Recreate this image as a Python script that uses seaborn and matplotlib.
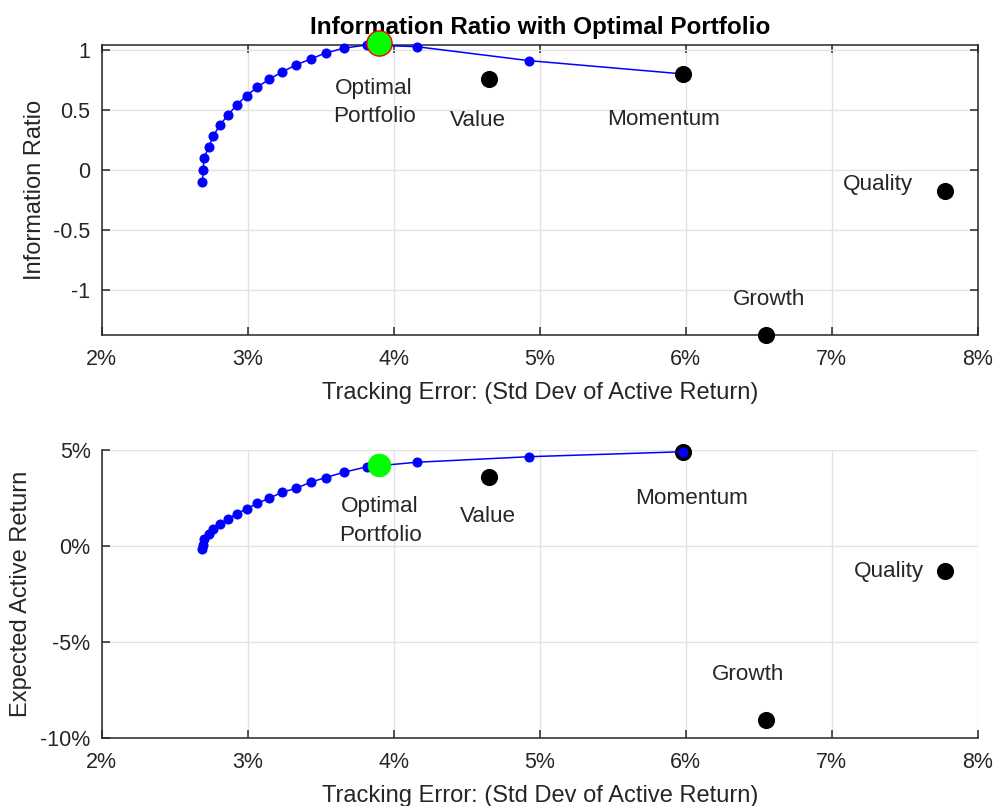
import numpy as np
import pandas as pd
import matplotlib
matplotlib.use('Agg')
import matplotlib.pyplot as plt
from matplotlib.ticker import PercentFormatter, FormatStrFormatter
import seaborn as sns

# Efficient frontier (in %)
frontier_te = [2.689, 2.695, 2.700, 2.734, 2.764, 2.810, 2.867, 2.924, 2.992, 3.065,
               3.147, 3.236, 3.330, 3.431, 3.533, 3.658, 3.814, 4.156, 4.927, 5.981]
frontier_ir = [-0.103, 0.000, 0.098, 0.195, 0.284, 0.376, 0.462, 0.543, 0.621, 0.691,
               0.758, 0.819, 0.877, 0.927, 0.977, 1.017, 1.044, 1.030, 0.913, 0.802]
frontier_ret = [-0.17, 0.07, 0.34, 0.60, 0.87, 1.14, 1.41, 1.67, 1.93, 2.22,
                2.48, 2.80, 3.00, 3.32, 3.56, 3.84, 4.12, 4.36, 4.65, 4.91]

# Factor portfolios
asset_names = ['Value', 'Momentum', 'Quality', 'Growth']
asset_te = [4.653, 5.981, 7.772, 6.552]
asset_ir = [0.76, 0.80, -0.175, -1.378]
asset_ret = [3.61, 4.91, -1.29, -9.10]

# Optimal portfolio
opt_te = 3.90
opt_ir = 1.058
opt_ret = 4.22

frontier = pd.DataFrame({'te': frontier_te, 'ir': frontier_ir, 'ret': frontier_ret})
assets = pd.DataFrame({'name': asset_names, 'te': asset_te, 'ir': asset_ir, 'ret': asset_ret})

sns.set_style('ticks')
plt.rcParams['font.family'] = ['Liberation Sans', 'DejaVu Sans']
plt.rcParams['axes.unicode_minus'] = False

text_col = '#262626'
grid_col = '#e2e2e2'
tick_size = 15.5
label_size = 17

# label offsets in pixels (dx, dy), alignment
top_labels = {'Optimal\nPortfolio': (-5, -59, 'center'), 'Value': (-11, -42, 'center'),
              'Momentum': (-19, -45, 'center'), 'Quality': (-32, 6, 'right'),
              'Growth': (3, 35, 'center')}
bot_labels = {'Optimal\nPortfolio': (1, -56, 'center'), 'Value': (-1, -40, 'center'),
              'Momentum': (9, -47, 'center'), 'Quality': (-21, -1, 'right'),
              'Growth': (-18, 46, 'center')}

fig = plt.figure(figsize=(9.95, 8.06), dpi=100)
ax1 = fig.add_axes([0.1022, 0.5844, 0.8806, 0.3598])
ax2 = fig.add_axes([0.1022, 0.0847, 0.8806, 0.3570])


def style_axes(ax, box):
    ax.grid(True, color=grid_col, lw=1.0)
    ax.set_axisbelow(True)
    for side in ['left', 'bottom', 'top', 'right']:
        ax.spines[side].set_color(text_col)
        ax.spines[side].set_linewidth(1.1)
    if not box:
        ax.spines['top'].set_visible(False)
        ax.spines['right'].set_visible(False)
    ax.tick_params(direction='in', length=6, width=1.1, color=text_col,
                   labelsize=tick_size, labelcolor=text_col,
                   top=box, right=box)
    ax.tick_params(axis='x', pad=10)
    ax.tick_params(axis='y', pad=8)
    ax.set_xlim(2, 8)
    ax.set_xticks([2, 3, 4, 5, 6, 7, 8])
    ax.xaxis.set_major_formatter(PercentFormatter(decimals=0))
    ax.set_xlabel('Tracking Error: (Std Dev of Active Return)', fontsize=label_size,
                  color=text_col, labelpad=9)


def add_labels(ax, ycol, opt_y, labels):
    pts = {'Optimal\nPortfolio': (opt_te, opt_y)}
    for _, r in assets.iterrows():
        pts[r['name']] = (r['te'], r[ycol])
    for name, (dx, dy, ha) in labels.items():
        ax.annotate(name, xy=pts[name], xytext=(dx, dy), textcoords='offset pixels',
                    ha=ha, va='center', fontsize=16.2, color=text_col, linespacing=1.45,
                    annotation_clip=False)


# Top: information ratio
style_axes(ax1, box=True)
sns.lineplot(data=frontier, x='te', y='ir', ax=ax1, color='blue', lw=1.1, marker='o',
             markersize=6.5, markeredgecolor='blue', sort=False, estimator=None, zorder=3,
             clip_on=False)
sns.scatterplot(data=assets, x='te', y='ir', ax=ax1, color='black', edgecolor='black',
                s=130, zorder=4, clip_on=False)
ax1.scatter([opt_te], [opt_ir], s=330, color='#00ff00', edgecolor='red', lw=1.0,
            zorder=5, clip_on=False)
ax1.set_ylim(min(asset_ir), max(frontier_ir))
ax1.set_yticks([-1, -0.5, 0, 0.5, 1])
ax1.yaxis.set_major_formatter(FormatStrFormatter('%g'))
ax1.set_ylabel('Information Ratio', fontsize=label_size, color=text_col, labelpad=5)
ax1.set_title('Information Ratio with Optimal Portfolio', fontsize=17.5, fontweight='bold',
              color='black', pad=8)
add_labels(ax1, 'ir', opt_ir, top_labels)

# Bottom: expected active return
style_axes(ax2, box=False)
sns.scatterplot(data=assets, x='te', y='ret', ax=ax2, color='black', edgecolor='black',
                s=130, zorder=3, clip_on=False)
sns.lineplot(data=frontier, x='te', y='ret', ax=ax2, color='blue', lw=1.1, marker='o',
             markersize=6.5, markeredgecolor='blue', sort=False, estimator=None, zorder=4,
             clip_on=False)
ax2.scatter([opt_te], [opt_ret], s=270, color='#00ff00', edgecolor='#00ff00', lw=0.5,
            zorder=5, clip_on=False)
ax2.set_ylim(-10, 5)
ax2.set_yticks([-10, -5, 0, 5])
ax2.yaxis.set_major_formatter(PercentFormatter(decimals=0))
ax2.set_ylabel('Expected Active Return', fontsize=label_size, color=text_col, labelpad=6)
add_labels(ax2, 'ret', opt_ret, bot_labels)

fig.savefig('out.png', dpi=100)
